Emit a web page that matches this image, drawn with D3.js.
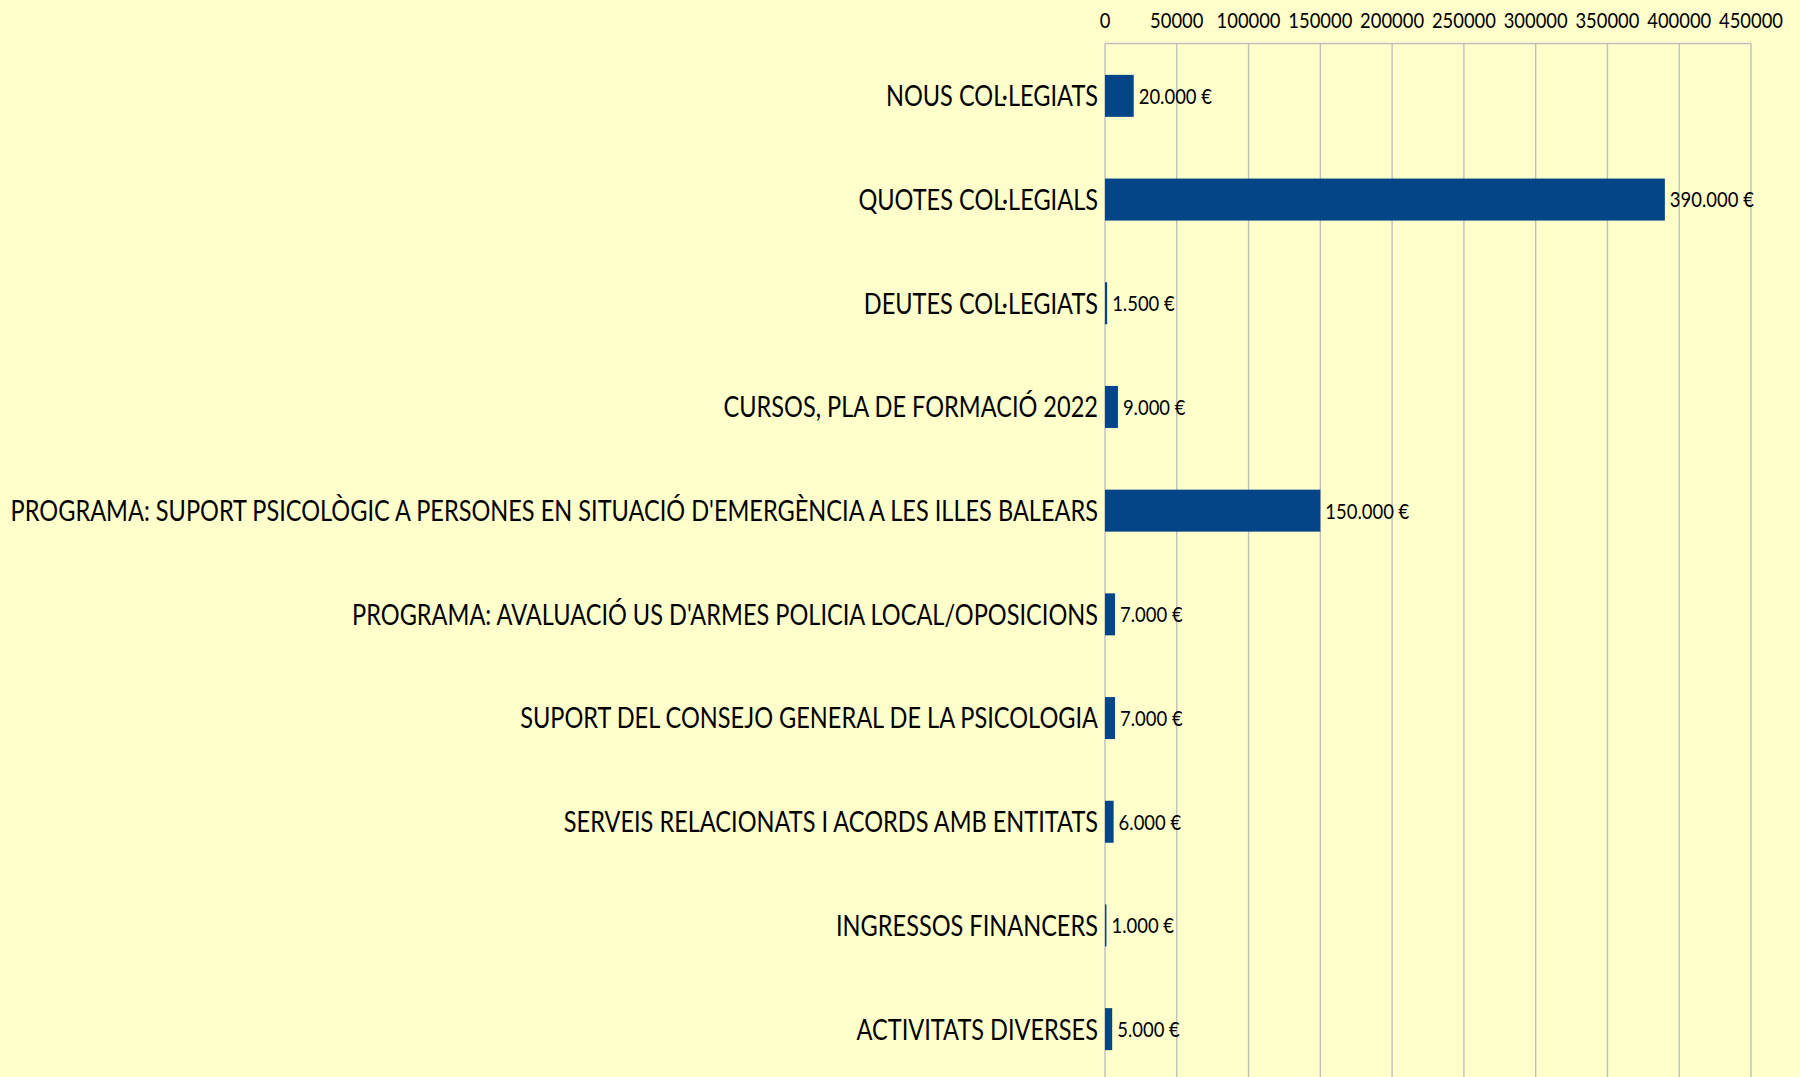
<!DOCTYPE html>
<html>
<head>
<meta charset="utf-8">
<script src="https://cdn.jsdelivr.net/npm/d3@7"></script>
<style>
  html, body { margin: 0; padding: 0; background: #ffffcc; }
  svg { display: block; }
  text { font-family: Lato, "Open Sans", sans-serif; fill: #000; }
</style>
</head>
<body>
<svg id="chart" width="1800" height="1077"></svg>
<script>
// chart data
const categories = [
  "NOUS COL·LEGIATS",
  "QUOTES COL·LEGIALS",
  "DEUTES COL·LEGIATS",
  "CURSOS, PLA DE FORMACIÓ 2022",
  "PROGRAMA: SUPORT PSICOLÒGIC A PERSONES EN SITUACIÓ D'EMERGÈNCIA A LES ILLES BALEARS",
  "PROGRAMA: AVALUACIÓ US D'ARMES POLICIA LOCAL/OPOSICIONS",
  "SUPORT DEL CONSEJO GENERAL DE LA PSICOLOGIA",
  "SERVEIS RELACIONATS I ACORDS AMB ENTITATS",
  "INGRESSOS FINANCERS",
  "ACTIVITATS DIVERSES"
];
const values = [20000, 390000, 1500, 9000, 150000, 7000, 7000, 6000, 1000, 5000];
const valueLabels = ["20.000 €", "390.000 €", "1.500 €", "9.000 €", "150.000 €", "7.000 €", "7.000 €", "6.000 €", "1.000 €", "5.000 €"];
const tickValues = [0, 50000, 100000, 150000, 200000, 250000, 300000, 350000, 400000, 450000];

const svg = d3.select('#chart');

const x = d3.scaleLinear().domain([0, 450000]).range([1105, 1751]);
const y = d3.scaleBand().domain(categories).range([44, 1081]).padding(0);
const barH = 42;
const gridColor = '#bfbfbf';

// measure natural widths, the original text is very narrow (condensed)
function naturalWidth(str, size){
    const t = svg.append('text').style('font-size', size + 'px').text(str);
    const w = t.node().getComputedTextLength();
    t.remove();
    return w;
}
const catSize = 29, valSize = 22, tickSize = 22;
const catSx = 1088 / naturalWidth(categories[4], catSize);
const valSx = 84 / naturalWidth("390.000 €", valSize);
const tickSx = 64 / naturalWidth("450000", tickSize);

// grid lines
svg.append('g').selectAll('line')
    .data(tickValues)
    .join('line')
    .attr('x1', d => x(d)).attr('x2', d => x(d))
    .attr('y1', 43.5).attr('y2', 1077)
    .style('stroke', gridColor).style('stroke-width', 1.4);

// top frame of plot area
svg.append('line')
    .attr('x1', x(0)).attr('x2', x(450000))
    .attr('y1', 43.5).attr('y2', 43.5)
    .style('stroke', gridColor).style('stroke-width', 1.4);

// value axis on top
const axis = d3.axisTop(x).tickValues(tickValues).tickSize(0).tickFormat(d3.format('d'));
const ax = svg.append('g').call(axis);
ax.select('.domain').remove();
ax.selectAll('.tick').attr('transform', null);
ax.selectAll('.tick text')
    .attr('y', null).attr('dy', null)
    .attr('fill', '#000')
    .attr('transform', d => 'translate(' + x(d) + ',28.3) scale(' + tickSx + ',1)')
    .style('font-size', tickSize + 'px')
    .style('font-family', 'Lato, "Open Sans", sans-serif');

// bars
svg.append('g').selectAll('rect')
    .data(values)
    .join('rect')
    .attr('x', x(0))
    .attr('y', (d, i) => y(categories[i]) + y.bandwidth() / 2 - barH / 2)
    .attr('width', d => x(d) - x(0))
    .attr('height', barH)
    .style('fill', '#034587');

// value labels
svg.append('g').selectAll('text')
    .data(values)
    .join('text')
    .attr('transform', (d, i) => 'translate(' + (x(d) + 5) + ',' + (y(categories[i]) + y.bandwidth() / 2 + valSize * 0.36) + ') scale(' + valSx + ',1)')
    .style('font-size', valSize + 'px')
    .text((d, i) => valueLabels[i]);

// category labels
svg.append('g').selectAll('text')
    .data(categories)
    .join('text')
    .attr('transform', d => 'translate(1098,' + (y(d) + y.bandwidth() / 2 + catSize * 0.36) + ') scale(' + catSx + ',1)')
    .attr('text-anchor', 'end')
    .style('font-size', catSize + 'px')
    .text(d => d);
</script>
</body>
</html>
